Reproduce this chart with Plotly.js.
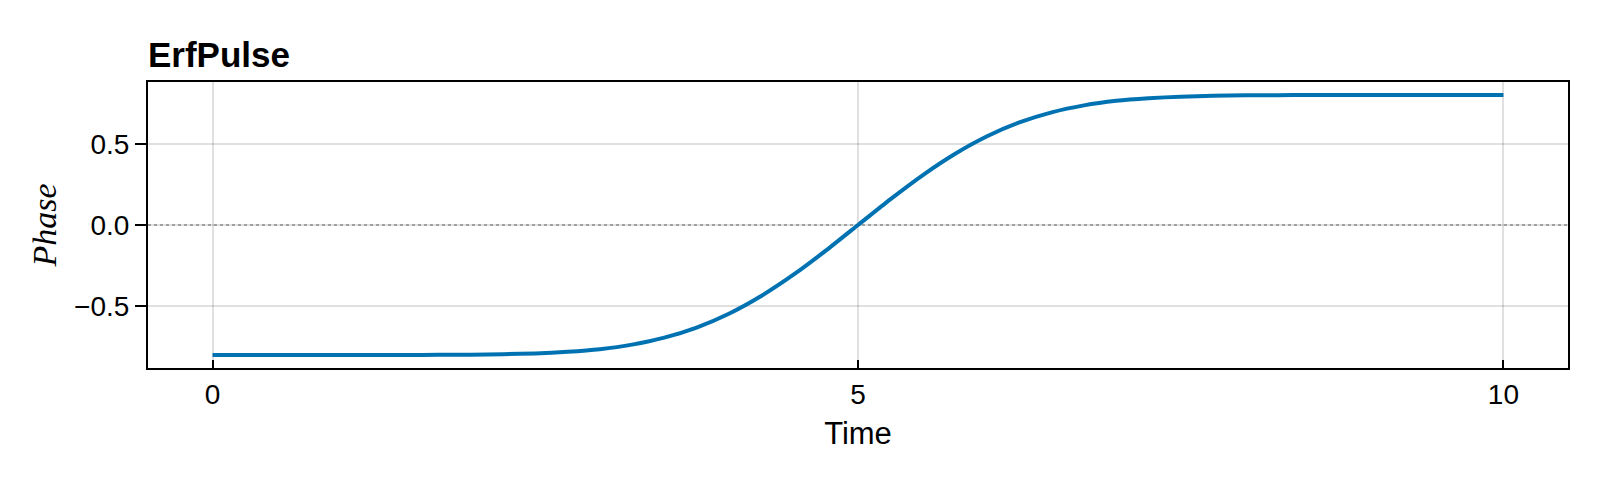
<!DOCTYPE html>
<html>
<head>
<meta charset="utf-8">
<script src="https://cdn.plot.ly/plotly-3.0.1.min.js"></script>
<style>
  html, body { margin: 0; padding: 0; background: #fff; }
  #plot { width: 1600px; height: 480px; }
</style>
</head>
<body>
<div id="plot"></div>
<script>
// values
var time = [0, 0.25, 0.5, 0.75, 1, 1.25, 1.5, 1.75, 2, 2.25, 2.5, 2.75, 3, 3.25, 3.5, 3.75,
    4, 4.25, 4.5, 4.75, 5, 5.25, 5.5, 5.75, 6, 6.25, 6.5, 6.75, 7, 7.25, 7.5, 7.75,
    8, 8.25, 8.5, 8.75, 9, 9.25, 9.5, 9.75, 10];
var phase = [-0.8, -0.8, -0.8, -0.8, -0.8, -0.8, -0.8, -0.799, -0.798, -0.795, -0.79, -0.78,
    -0.764, -0.736, -0.693, -0.631, -0.546, -0.437, -0.306, -0.158, 0,
    0.158, 0.306, 0.437, 0.546, 0.631, 0.693, 0.736, 0.764, 0.78, 0.79, 0.795,
    0.798, 0.799, 0.8, 0.8, 0.8, 0.8, 0.8, 0.8, 0.8];
var xTicks = [0, 5, 10];
var yTicks = [-0.5, 0, 0.5];
var yTickText = ['\u22120.5', '0.0', '0.5'];

function runPlot() {
    var plotdiv = document.querySelector('#plot');

    var pulse = {
        x: time,
        y: phase,
        mode: 'lines',
        type: 'scatter',
        line: { color: 'rgb(0, 114, 178)', width: 4, shape: 'spline', smoothing: 0.6 },
        hoverinfo: 'skip',
        showlegend: false,
    };

    var font = 'Liberation Sans, Arial, sans-serif';

    var layout = {
        width: 1600,
        height: 480,
        margin: { l: 148, r: 32, t: 82, b: 112 },
        paper_bgcolor: '#fff',
        plot_bgcolor: '#fff',
        font: { family: font, color: '#000' },
        title: {
            text: '<b>ErfPulse</b>',
            font: { family: font, size: 35, color: '#000' },
            xref: 'paper',
            x: 0,
            xanchor: 'left',
            yref: 'container',
            y: 1 - 55 / 480,
            yanchor: 'middle',
        },
        xaxis: {
            range: [-0.5, 10.5],
            tickvals: xTicks,
            ticktext: xTicks.map(String),
            ticks: 'inside',
            ticklen: 8,
            tickwidth: 2,
            tickcolor: '#000',
            ticklabelstandoff: 0,
            tickfont: { family: font, size: 28 },
            showline: true,
            linecolor: '#000',
            linewidth: 2,
            mirror: true,
            showgrid: true,
            gridcolor: 'rgba(0,0,0,0.12)',
            gridwidth: 2,
            zeroline: false,
            title: { text: 'Time', font: { family: font, size: 31 }, standoff: 14 },
        },
        yaxis: {
            range: [-0.88, 0.88],
            tickvals: yTicks,
            ticktext: yTickText,
            ticks: 'outside',
            ticklen: 11,
            tickwidth: 2,
            tickcolor: '#000',
            ticklabelstandoff: 0,
            tickfont: { family: font, size: 28 },
            showline: true,
            linecolor: '#000',
            linewidth: 2,
            mirror: true,
            showgrid: true,
            gridcolor: 'rgba(0,0,0,0.12)',
            gridwidth: 2,
            zeroline: false,
            title: {
                text: '<i>Phase</i>',
                font: { family: 'Liberation Serif, DejaVu Serif, serif', size: 34 },
                standoff: 7,
            },
        },
        shapes: [{
            type: 'line',
            xref: 'paper',
            x0: 0,
            x1: 1,
            yref: 'y',
            y0: 0,
            y1: 0,
            line: { color: 'rgb(160,160,160)', width: 1.5, dash: 'dot' },
            layer: 'below',
        }],
    };

    var config = { displayModeBar: false, staticPlot: true };

    Plotly.newPlot(plotdiv, [pulse], layout, config);
}

runPlot();
</script>
</body>
</html>
